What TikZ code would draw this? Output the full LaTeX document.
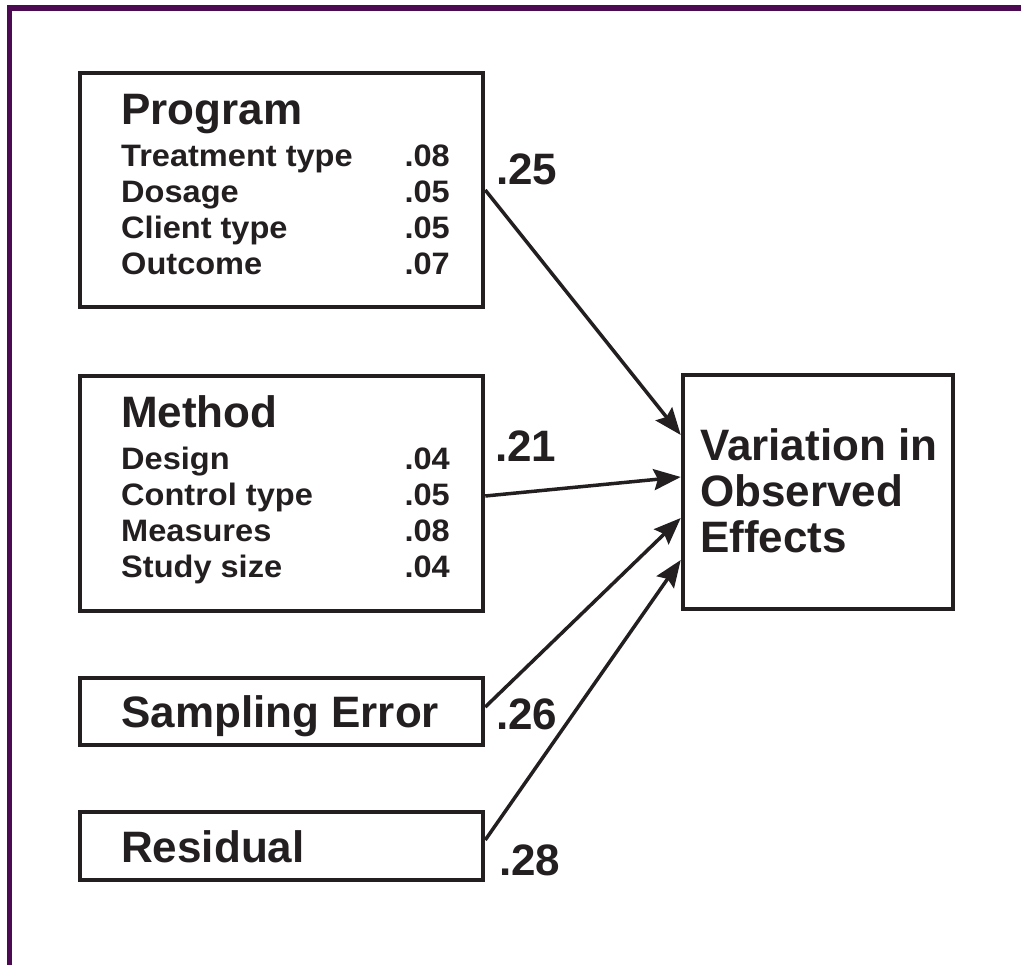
\documentclass[tikz,border=0pt]{standalone}
\usepackage{fontspec}
\setmainfont{Liberation Sans}
\newfontfamily\itemfont[FakeStretch=1.05]{Liberation Sans}
\usetikzlibrary{arrows.meta}
\definecolor{framepurple}{RGB}{76,10,82}
\definecolor{ink}{RGB}{35,31,32}
\tikzset{
  box/.style={draw=ink, line width=4.5pt, rectangle, inner sep=0pt, fill=white},
  title/.style={anchor=base west, inner sep=0pt, text=ink, font=\fontsize{44}{48}\selectfont\bfseries},
  item/.style={anchor=base west, inner sep=0pt, text=ink, font=\itemfont\fontsize{31}{36}\selectfont\bfseries},
  value/.style={anchor=base east, inner sep=0pt, text=ink, font=\itemfont\fontsize{31}{36}\selectfont\bfseries},
  coef/.style={anchor=base west, inner sep=0pt, text=ink, font=\fontsize{44}{48}\selectfont\bfseries},
  arr/.style={draw=ink, line width=3.5pt, -{Stealth[length=27pt,width=21pt,inset=4pt]}}
}
\begin{document}
\begin{tikzpicture}[x=1pt,y=-1pt]
\useasboundingbox (0,0) rectangle (1021,965);
\fill[white] (0,0) rectangle (1021,965);
% outer frame (only the top and left sides fall inside the page)
\draw[framepurple, line width=5.5pt] (9.5,980) -- (9.5,8) -- (1040,8);

% boxes
\node[box, minimum width=403pt, minimum height=234pt] (prog) at (281.5,190) {};
\node[box, minimum width=403pt, minimum height=235pt] (meth) at (281.5,493.5) {};
\node[box, minimum width=403pt, minimum height=67pt] (samp) at (281.5,711.5) {};
\node[box, minimum width=403pt, minimum height=68pt] (resid) at (281.5,846) {};
\node[box, minimum width=270pt, minimum height=234pt] (var) at (818,492) {};

% program block
\node[title] (progT) at (121,125) {Program};
\node[item] (p1) at (121,167) {Treatment type};
\node[item] (p2) at (121,203) {Dosage};
\node[item] (p3) at (121,239) {Client type};
\node[item] (p4) at (121,275) {Outcome};
\node[value] (p1v) at (450,167) {.08};
\node[value] (p2v) at (450,203) {.05};
\node[value] (p3v) at (450,239) {.05};
\node[value] (p4v) at (450,275) {.07};

% method block
\node[title] (methT) at (121,428) {Method};
\node[item] (m1) at (121,470) {Design};
\node[item] (m2) at (121,506) {Control type};
\node[item] (m3) at (121,542) {Measures};
\node[item] (m4) at (121,578) {Study size};
\node[value] (m1v) at (450,470) {.04};
\node[value] (m2v) at (450,506) {.05};
\node[value] (m3v) at (450,542) {.08};
\node[value] (m4v) at (450,578) {.04};

% single-line blocks
\node[title] (sampT) at (121,727) {Sampling Error};
\node[title] (residT) at (121,862) {Residual};

% outcome block
\node[title] (v1) at (700,461) {Variation in};
\node[title] (v2) at (700,507) {Observed};
\node[title] (v3) at (700,553) {Effects};

% paths
\draw[arr] (prog.east) -- ([yshift=57pt]var.west);
\draw[arr] ([yshift=-2.5pt]meth.east) -- ([yshift=15pt]var.west);
\draw[arr] ([yshift=4.5pt]samp.east) -- ([yshift=-26pt]var.west);
\draw[arr] ([yshift=6pt]resid.east) -- ([yshift=-68pt]var.west);

% path coefficients
\node[coef] (c1) at (496,185) {.25};
\node[coef] (c2) at (495,462) {.21};
\node[coef] (c3) at (496,729) {.26};
\node[coef] (c4) at (499,875) {.28};
\end{tikzpicture}
\end{document}
